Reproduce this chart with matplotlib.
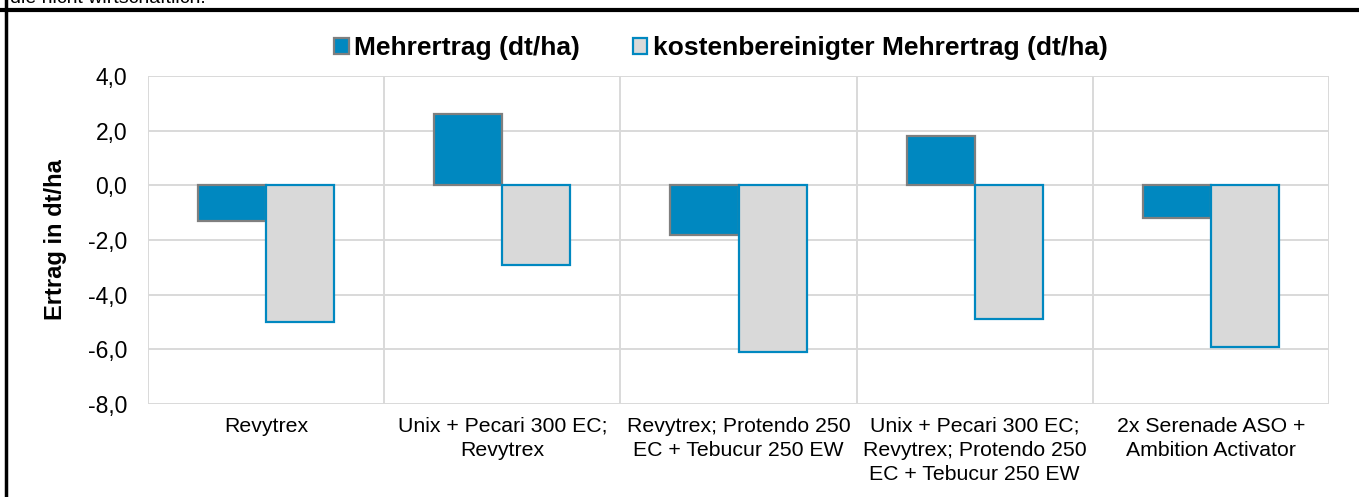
import matplotlib.pyplot as plt
from matplotlib.lines import Line2D
from matplotlib.patches import Patch
import numpy as np

plt.rcParams['font.family'] = ['Liberation Sans', 'DejaVu Sans']

# data
categories = [
    "Revytrex",
    "Unix + Pecari 300 EC;\nRevytrex",
    "Revytrex; Protendo 250\nEC + Tebucur 250 EW",
    "Unix + Pecari 300 EC;\nRevytrex; Protendo 250\nEC + Tebucur 250 EW",
    "2x Serenade ASO +\nAmbition Activator",
]
mehrertrag = [-1.3, 2.6, -1.8, 1.8, -1.2]
kostenbereinigt = [-5.0, -2.9, -6.1, -4.9, -5.9]
series_names = ["Mehrertrag (dt/ha)", "kostenbereinigter Mehrertrag (dt/ha)"]
yticks = [4, 2, 0, -2, -4, -6, -8]

blue = '#0088c0'
grey_fill = '#d9d9d9'
grey_edge = '#7f7f7f'
grid_col = '#d9d9d9'

fig = plt.figure(figsize=(13.59, 4.97), dpi=100)
ax = fig.add_axes([148/1359, 93/497, 1181/1359, 328/497])

x = np.arange(len(categories))
w = 0.288
ax.bar(x - w/2, mehrertrag, w, color=blue, edgecolor=grey_edge, linewidth=1.6, zorder=3)
ax.bar(x + w/2, kostenbereinigt, w, color=grey_fill, edgecolor=blue, linewidth=1.6, zorder=3)

ax.set_xlim(-0.5, len(categories) - 0.5)
ax.set_ylim(-8, 4)
ax.set_yticks(yticks)
ax.set_yticklabels([f"{v:.1f}".replace('.', ',') for v in yticks], fontsize=16.5)
ax.set_xticks(x)
ax.set_xticklabels(categories, fontsize=15.3, linespacing=1.35)
ax.tick_params(axis='both', length=0)
ax.tick_params(axis='y', pad=15)
ax.tick_params(axis='x', pad=9)

# grid: horizontal at each tick, vertical between categories
for y in yticks:
    ax.axhline(y, color=grid_col, lw=1.4, zorder=1)
for xb in np.arange(-0.5, len(categories), 1.0):
    ax.axvline(xb, color=grid_col, lw=1.4, zorder=1)
for s in ax.spines.values():
    s.set_visible(False)

ax.set_ylabel("Ertrag in dt/ha", fontsize=17, fontweight='bold', labelpad=15)

handles = [Patch(facecolor=blue, edgecolor=grey_edge, linewidth=1.6),
           Patch(facecolor=grey_fill, edgecolor=blue, linewidth=1.6)]
fig.legend(handles, series_names, loc='center', bbox_to_anchor=(721/1359, 1 - 48/497),
           ncol=2, frameon=False, prop={'weight': 'bold', 'size': 19},
           handlelength=0.55, handleheight=0.55, handletextpad=0.2, columnspacing=2.0)

# outer frame (left and top edges) and clipped caption above
fig.add_artist(Line2D([6/1359, 6/1359], [0, 1], color='black', lw=2.5, transform=fig.transFigure))
fig.add_artist(Line2D([0, 1], [1 - 10/497, 1 - 10/497], color='black', lw=3, transform=fig.transFigure))
fig.text(10/1359, 1 - 3/497, "die nicht wirtschaftlich.", fontsize=14, va='baseline', ha='left')

fig.savefig('out.png', dpi=100)
